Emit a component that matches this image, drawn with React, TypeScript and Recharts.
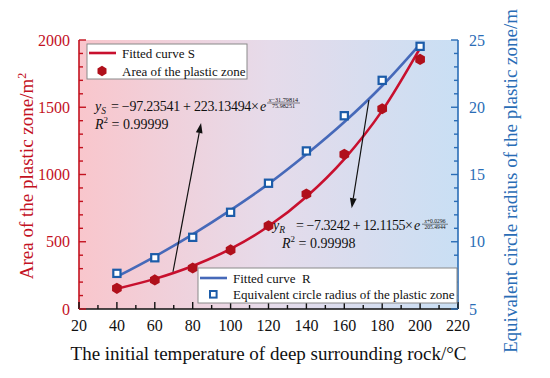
import React from "react";
import {
  ComposedChart,
  Line,
  XAxis,
  YAxis,
  ReferenceArea,
  ReferenceLine,
} from "recharts";

// initial rock temperature (°C)
const temperatures = [40, 60, 80, 100, 120, 140, 160, 180, 200];
// area of the plastic zone (m²), measured points
const plasticArea = [154, 216, 305, 439, 619, 855, 1150, 1489, 1856];
// fitted curve S
const fittedArea = [151, 224, 320, 447, 615, 835, 1115, 1475, 1940];
// equivalent circle radius (m), measured points
const circleRadius = [7.65, 8.81, 10.33, 12.19, 14.35, 16.75, 19.37, 22.0, 24.53];
// fitted curve R
const fittedRadius = [7.4, 8.9, 10.55, 12.35, 14.3, 16.5, 18.9, 21.6, 24.7];

const xTicks = [20, 30, 40, 50, 60, 70, 80, 90, 100, 110, 120, 130, 140, 150, 160, 170, 180, 190, 200, 210, 220];
const areaTicks = [0, 100, 200, 300, 400, 500, 600, 700, 800, 900, 1000, 1100, 1200, 1300, 1400, 1500, 1600, 1700, 1800, 1900, 2000];
const radiusTicks = [5, 6, 7, 8, 9, 10, 11, 12, 13, 14, 15, 16, 17, 18, 19, 20, 21, 22, 23, 24, 25];

// annotation arrows in data units
const arrowS = [{ x: 69.6, y: 277 }, { x: 84.4, y: 1383 }];
const arrowR = [{ x: 173, y: 20.54 }, { x: 163.9, y: 12.5 }];

const data = temperatures.map((t, i) => ({
  t,
  area: plasticArea[i],
  fitS: fittedArea[i],
  radius: circleRadius[i],
  fitR: fittedRadius[i],
}));

const FONT = "'Liberation Serif', 'Times New Roman', serif";
const RED = "#c3121f";
const RED_DOT = "#b0101b";
const RED_LINE = "#c8102e";
const BLUE = "#2a6db6";
const BLUE_LINE = "#4669b9";
const BLUE_SQ = "#1c5ca9";

const hexPoints = (cx: number, cy: number, r: number) =>
  [0, 1, 2, 3, 4, 5]
    .map((k) => {
      const a = (Math.PI / 3) * k + Math.PI / 6;
      return `${cx + r * Math.cos(a)},${cy + r * Math.sin(a)}`;
    })
    .join(" ");

const renderHex = (p: any) => {
  if (p.cx == null || p.cy == null) return <g key={p.index} />;
  return <polygon key={p.index} points={hexPoints(p.cx, p.cy, 5.6)} fill={RED_DOT} />;
};

const renderSquare = (p: any) => {
  if (p.cx == null || p.cy == null) return <g key={p.index} />;
  return (
    <rect
      key={p.index}
      x={p.cx - 3.6}
      y={p.cy - 3.6}
      width={7.2}
      height={7.2}
      fill="#ffffff"
      stroke={BLUE_SQ}
      strokeWidth={2.2}
    />
  );
};

const Arrow = (props: any) => {
  const { x1, y1, x2, y2 } = props;
  const ang = Math.atan2(y2 - y1, x2 - x1);
  const len = 10;
  const w = 3.4;
  const bx = x2 - len * Math.cos(ang);
  const by = y2 - len * Math.sin(ang);
  const s = Math.sin(ang);
  const c = Math.cos(ang);
  return (
    <g>
      <line x1={x1} y1={y1} x2={bx} y2={by} stroke="#111" strokeWidth={1.2} />
      <polygon
        points={`${x2},${y2} ${bx + w * s},${by - w * c} ${bx - w * s},${by + w * c}`}
        fill="#111"
      />
    </g>
  );
};

const AreaTick = ({ x, y, payload }: any) => {
  const v = payload.value;
  const major = v % 500 === 0;
  return (
    <g>
      <line x1={x} y1={y} x2={x + (major ? 7 : 4)} y2={y} stroke={RED} strokeWidth={1.4} />
      {major && (
        <text x={x - 9} y={y + 5.5} textAnchor="end" fill={RED} fontSize={16} fontFamily={FONT}>
          {v}
        </text>
      )}
    </g>
  );
};

const RadiusTick = ({ x, y, payload }: any) => {
  const v = payload.value;
  const major = v % 5 === 0;
  return (
    <g>
      <line x1={x} y1={y} x2={x - (major ? 7 : 4)} y2={y} stroke={BLUE} strokeWidth={1.4} />
      {major && (
        <text x={x + 11} y={y + 5.5} textAnchor="start" fill={BLUE} fontSize={16} fontFamily={FONT}>
          {v}
        </text>
      )}
    </g>
  );
};

const TempTick = ({ x, y, payload }: any) => {
  const v = payload.value;
  const major = v % 20 === 0;
  return (
    <g>
      <line x1={x} y1={y} x2={x} y2={y - (major ? 7 : 4)} stroke="#111" strokeWidth={1.4} />
      {major && (
        <text x={x} y={y + 22} textAnchor="middle" fill="#111" fontSize={16} fontFamily={FONT}>
          {v}
        </text>
      )}
    </g>
  );
};

function Annotations() {
  return (
    <svg
      width={550}
      height={378}
      style={{ position: "absolute", left: 0, top: 0, pointerEvents: "none" }}
      fontFamily={FONT}
    >
      {/* legend S */}
      <rect x={87} y={44} width={160} height={35} fill="#fff" stroke="#8a8a8a" strokeWidth={1} />
      <line x1={89} y1={53} x2={116} y2={53} stroke={RED_LINE} strokeWidth={2.6} />
      <text x={122} y={58} fontSize={13} fill="#111">Fitted curve S</text>
      <polygon points={hexPoints(102, 71, 5.2)} fill={RED_DOT} />
      <text x={122} y={75.5} fontSize={13} fill="#111">Area of the plastic zone</text>

      {/* legend R */}
      <rect x={198} y={268} width={259} height={35} fill="#fff" stroke="#8a8a8a" strokeWidth={1} />
      <line x1={200} y1={278} x2={227} y2={278} stroke={BLUE_LINE} strokeWidth={2.6} />
      <text x={233} y={283} fontSize={13} fill="#111" xmlSpace="preserve">Fitted curve  R</text>
      <rect x={210} y={291} width={6.6} height={6.6} fill="#fff" stroke={BLUE_SQ} strokeWidth={2} />
      <text x={233} y={299} fontSize={13} fill="#111">Equivalent circle radius of the plastic zone</text>

      {/* equation S */}
      <text x={95} y={111} fontSize={14} fill="#111">
        <tspan fontStyle="italic">y</tspan>
        <tspan fontSize={9.5} dy={2.5} fontStyle="italic">S</tspan>
      </text>
      <text x={111} y={111} fontSize={14} fill="#111" textLength={148} lengthAdjust="spacing">
        = −97.23541 + 223.13494×
      </text>
      <text x={260} y={111} fontSize={14} fill="#111" fontStyle="italic">e</text>
      <text x={283.5} y={101.5} fontSize={6.2} fill="#111" textAnchor="middle">
        <tspan fontStyle="italic">x</tspan>−31.79814
      </text>
      <line x1={267} y1={103} x2={300} y2={103} stroke="#111" strokeWidth={0.5} />
      <text x={283.5} y={107.8} fontSize={6.2} fill="#111" textAnchor="middle">75.98251</text>
      <text x={95} y={129} fontSize={14} fill="#111">
        <tspan fontStyle="italic">R</tspan>
        <tspan fontSize={9} dy={-6}>2</tspan>
        <tspan dy={6}> = 0.99999</tspan>
      </text>

      {/* equation R */}
      <text x={273} y={230} fontSize={14} fill="#111">
        <tspan fontStyle="italic">y</tspan>
        <tspan fontSize={9.5} dy={2.5} fontStyle="italic">R</tspan>
      </text>
      <text x={296} y={230} fontSize={14} fill="#111" textLength={117} lengthAdjust="spacing">
        = −7.3242 + 12.1155×
      </text>
      <text x={414} y={230} fontSize={14} fill="#111" fontStyle="italic">e</text>
      <text x={435} y={222.6} fontSize={5.6} fill="#111" textAnchor="middle">
        <tspan fontStyle="italic">x</tspan>+0.0296
      </text>
      <line x1={422} y1={224.2} x2={448} y2={224.2} stroke="#111" strokeWidth={0.5} />
      <text x={435} y={228.8} fontSize={5.6} fill="#111" textAnchor="middle">205.4944</text>
      <text x={282} y={247.5} fontSize={14} fill="#111">
        <tspan fontStyle="italic">R</tspan>
        <tspan fontSize={9} dy={-6}>2</tspan>
        <tspan dy={6}> = 0.99998</tspan>
      </text>

      {/* axis titles */}
      <text x={268.5} y={360} fontSize={19} fill="#111" textAnchor="middle">
        The initial temperature of deep surrounding rock/°C
      </text>
      <text
        transform="translate(33, 176) rotate(-90)"
        fontSize={19}
        fill={RED}
        textAnchor="middle"
      >
        Area of the plastic zone/m<tspan fontSize={12} dy={-7}>2</tspan>
      </text>
      <text
        transform="translate(517, 181) rotate(-90)"
        fontSize={19}
        fill={BLUE}
        textAnchor="middle"
      >
        Equivalent circle radius of the plastic zone/m
      </text>
    </svg>
  );
}

export default function App() {
  return (
    <div style={{ position: "absolute", left: 0, top: 0, width: 550, height: 378, background: "#fff" }}>
      <ComposedChart
        width={550}
        height={378}
        data={data}
        margin={{ top: 40, right: 0, bottom: 0, left: 0 }}
      >
        <defs>
          <linearGradient id="bgGrad" x1="0" y1="0" x2="1" y2="0">
            <stop offset="0%" stopColor="#f9c6cc" />
            <stop offset="50%" stopColor="#e6dbea" />
            <stop offset="100%" stopColor="#c9dff4" />
          </linearGradient>
        </defs>
        <XAxis
          dataKey="t"
          type="number"
          domain={[20, 220]}
          ticks={xTicks}
          interval={0}
          height={69}
          tickSize={0}
          tickMargin={0}
          tickLine={false}
          tick={<TempTick />}
          axisLine={{ stroke: "#111", strokeWidth: 1.5 }}
        />
        <YAxis
          yAxisId="left"
          orientation="left"
          domain={[0, 2000]}
          ticks={areaTicks}
          interval={0}
          width={79}
          tickSize={0}
          tickMargin={0}
          tickLine={false}
          tick={<AreaTick />}
          axisLine={{ stroke: RED, strokeWidth: 1.6 }}
        />
        <YAxis
          yAxisId="right"
          orientation="right"
          domain={[5, 25]}
          ticks={radiusTicks}
          interval={0}
          width={92}
          tickSize={0}
          tickMargin={0}
          tickLine={false}
          tick={<RadiusTick />}
          axisLine={{ stroke: BLUE, strokeWidth: 1.6 }}
        />
        <ReferenceArea
          yAxisId="left"
          x1={20}
          x2={220}
          y1={0}
          y2={2000}
          fill="url(#bgGrad)"
          fillOpacity={1}
          stroke="none"
        />
        <Line
          yAxisId="right"
          dataKey="fitR"
          type="monotone"
          stroke={BLUE_LINE}
          strokeWidth={2.6}
          dot={false}
          activeDot={false}
          isAnimationActive={false}
        />
        <Line
          yAxisId="left"
          dataKey="fitS"
          type="monotone"
          stroke={RED_LINE}
          strokeWidth={2.6}
          dot={false}
          activeDot={false}
          isAnimationActive={false}
        />
        <Line
          yAxisId="left"
          dataKey="area"
          stroke="none"
          dot={renderHex}
          activeDot={false}
          isAnimationActive={false}
        />
        <Line
          yAxisId="right"
          dataKey="radius"
          stroke="none"
          dot={renderSquare}
          activeDot={false}
          isAnimationActive={false}
        />
        <ReferenceLine yAxisId="left" segment={arrowS} shape={Arrow} />
        <ReferenceLine yAxisId="right" segment={arrowR} shape={Arrow} />
      </ComposedChart>
      <Annotations />
    </div>
  );
}
